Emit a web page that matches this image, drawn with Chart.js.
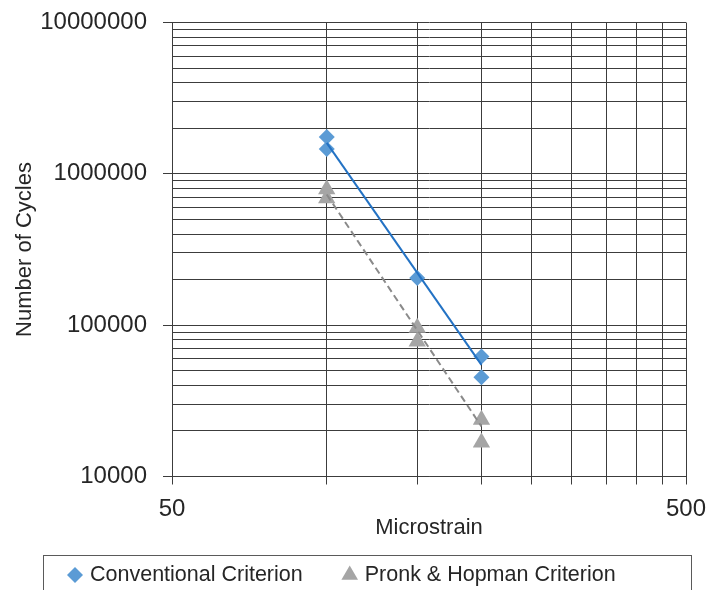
<!DOCTYPE html>
<html>
<head>
<meta charset="utf-8">
<script src="https://cdn.jsdelivr.net/npm/chart.js@4.4.0/dist/chart.umd.min.js"></script>
<style>
  html, body { margin: 0; padding: 0; background: #fff; overflow: hidden; }
  #wrap { width: 706px; height: 590px; }
</style>
</head>
<body>
<div id="wrap"><canvas id="c" width="706" height="590"></canvas></div>
<script>
// values
const convX = [100, 100, 150, 200, 200];
const convY = [1750000, 1460000, 205000, 62000, 45200];
const pronkX = [100, 100, 150, 150, 200, 200];
const pronkY = [790000, 690000, 96000, 78000, 23700, 16800];
// trend line end points
const trendX = [100, 200];
const convTrendY = [1600000, 54700];
const pronkTrendY = [730000, 21400];

const xTicks = [50, 100, 150, 200, 250, 300, 350, 400, 450, 500];
const xLabels = [50, 500];
const yLabels = [10000, 100000, 1000000, 10000000];
const yTicks = [];
[10000, 100000, 1000000].forEach(d => { for (let k = 1; k < 10; k++) yTicks.push(d * k); });
yTicks.push(10000000);

const FONT = '"Liberation Sans", Arial, sans-serif';
const TEXT = '#262626';
const GRID = '#3c3c3c';

const pts = (xs, ys) => xs.map((x, i) => ({ x: x, y: ys[i] }));

const boxLegend = {
    id: 'boxLegend',
    afterDraw(chart) {
        const ctx = chart.ctx;
        ctx.save();
        ctx.strokeStyle = '#5a5a5a';
        ctx.lineWidth = 1;
        ctx.strokeRect(43.5, 555.5, 648, 60);
        ctx.font = '21.5px ' + FONT;
        ctx.textBaseline = 'middle';
        let x = 67;
        const y = 575;
        chart.data.datasets.filter(d => d.inLegend).forEach(d => {
            ctx.fillStyle = d.backgroundColor;
            Chart.helpers.drawPoint(ctx, { pointStyle: d.pointStyle, radius: d.legendRadius, borderWidth: 0 }, x + 8, y);
            ctx.fillStyle = TEXT;
            ctx.fillText(d.label, x + 23, y);
            x += 23 + ctx.measureText(d.label).width + 39;
        });
        ctx.restore();
    }
};

new Chart(document.getElementById('c'), {
    type: 'scatter',
    data: {
        datasets: [
            { label: 'Conventional Criterion', data: pts(convX, convY), inLegend: true,
              pointStyle: 'rectRot', pointRadius: 8, legendRadius: 8, backgroundColor: '#5B9BD5',
              borderColor: '#5B9BD5', borderWidth: 0, order: 2 },
            { label: 'Pronk & Hopman Criterion', data: pts(pronkX, pronkY), inLegend: true,
              pointStyle: 'triangle', pointRadius: 10, legendRadius: 9.6, backgroundColor: '#A5A5A5',
              borderColor: '#A5A5A5', borderWidth: 0, order: 2 },
            { label: 'conv trend', data: pts(trendX, convTrendY), showLine: true, pointRadius: 0,
              borderColor: '#2372C4', borderWidth: 2, order: 1 },
            { label: 'pronk trend', data: pts(trendX, pronkTrendY), showLine: true, pointRadius: 0,
              borderColor: '#8a8a8a', borderWidth: 2, borderDash: [7, 4], order: 1 }
        ]
    },
    options: {
        responsive: false,
        animation: false,
        devicePixelRatio: 1,
        layout: { padding: { left: 0, right: 20, top: 22.5, bottom: 0 } },
        plugins: { legend: { display: false }, tooltip: { enabled: false } },
        scales: {
            x: {
                type: 'logarithmic', min: 50, max: 500,
                afterBuildTicks: s => { s.ticks = xTicks.map(v => ({ value: v })); },
                afterFit: s => { s.height = 113.5; s.paddingLeft = 0; s.paddingRight = 0; },
                ticks: {
                    autoSkip: false, maxRotation: 0, padding: 10, color: TEXT,
                    font: { family: FONT, size: 24 },
                    callback: v => xLabels.includes(v) ? String(v) : ''
                },
                grid: { color: GRID, lineWidth: 1, tickLength: 8, tickColor: GRID },
                border: { color: GRID },
                title: { display: true, text: 'Microstrain', color: TEXT,
                         font: { family: FONT, size: 22 }, padding: { top: 0, bottom: 49 } }
            },
            y: {
                type: 'logarithmic', min: 10000, max: 10000000,
                afterBuildTicks: s => { s.ticks = yTicks.map(v => ({ value: v })); },
                afterFit: s => { s.width = 172; s.paddingTop = 0; s.paddingBottom = 0; },
                ticks: {
                    autoSkip: false, padding: 16, color: TEXT,
                    font: { family: FONT, size: 24 },
                    callback: v => yLabels.includes(v) ? String(v) : ''
                },
                grid: {
                    color: GRID, lineWidth: 1, tickLength: 9,
                    tickColor: c => (c.tick && yLabels.includes(c.tick.value)) ? GRID : 'rgba(0,0,0,0)'
                },
                border: { color: GRID },
                title: { display: true, text: 'Number of Cycles', color: TEXT,
                         font: { family: FONT, size: 22 }, padding: { top: 12, bottom: 0 } }
            }
        }
    },
    plugins: [boxLegend]
});
</script>
</body>
</html>
